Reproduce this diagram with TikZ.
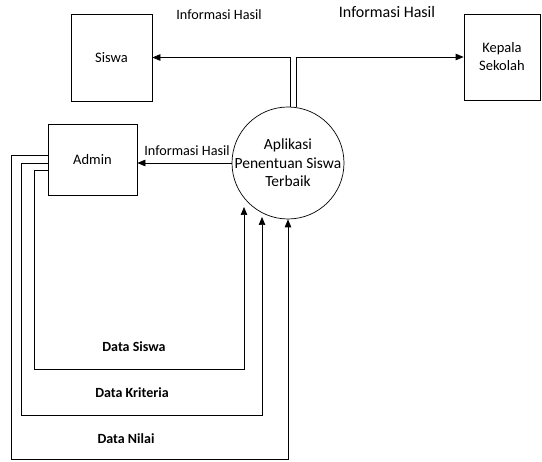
\documentclass[tikz,border=0pt]{standalone}
\usepackage{fontspec}
\setmainfont{Carlito}
\usetikzlibrary{arrows.meta}
\begin{document}
\begin{tikzpicture}[x=1pt,y=-1pt,
  line width=0.7pt,
  box/.style={draw,rectangle,inner sep=0pt,align=center,font=\fontsize{14.5}{18}\selectfont},
  proc/.style={draw,circle,inner sep=0pt,minimum size=112pt},
  proctext/.style={align=center,inner sep=0pt,font=\fontsize{15.5}{18.5}\selectfont},
  arr/.style={-{Triangle[length=8pt,width=6.5pt]}},
  lbl/.style={font=\fontsize{14.2}{16}\selectfont,inner sep=0pt},
  blbl/.style={font=\bfseries\fontsize{14}{16}\selectfont,inner sep=0pt}]
\useasboundingbox (0,0) rectangle (542,462);
\node[box,minimum width=81pt,minimum height=87pt] (siswa) at (111.5,57.5) {Siswa};
\node[box,minimum width=76pt,minimum height=86pt] (kepala) at (502,57) {Kepala\\Sekolah};
\node[box,minimum width=89pt,minimum height=71pt] (admin) at (92.5,159.5) {Admin};
\node[proc,label={[proctext]center:Aplikasi\\Penentuan Siswa\\Terbaik}] (proc) at (288,163) {};
\draw[arr] (proc.88) |- (siswa.east);
\draw[arr] (proc.81) |- (kepala.west);
\draw[arr] (proc.west) -- (proc.west -| admin.east);
\node[lbl] (l1) at (219,14.5) {Informasi Hasil};
\node[lbl,font=\fontsize{16}{18}\selectfont] (l2) at (387,12.5) {Informasi Hasil};
\node[lbl,anchor=south] (l3) at (187,156) {Informasi Hasil};
\coordinate (t1) at (244,207);
\coordinate (t2) at (262,217);
\coordinate (c1) at (34,369);
\coordinate (c2) at (21,415);
\coordinate (c3) at (11,459);
\draw[arr] (admin.west |- 0,170) -| (c1) -| (t1);
\draw[arr] (admin.west |- 0,163) -| (c2) -| (t2);
\draw[arr] (admin.west |- 0,155) -| (c3) -| (proc.south);
\node[blbl] (d1) at (134,347) {Data Siswa};
\node[blbl] (d2) at (132,393) {Data Kriteria};
\node[blbl] (d3) at (126,439) {Data Nilai};
\end{tikzpicture}
\end{document}
